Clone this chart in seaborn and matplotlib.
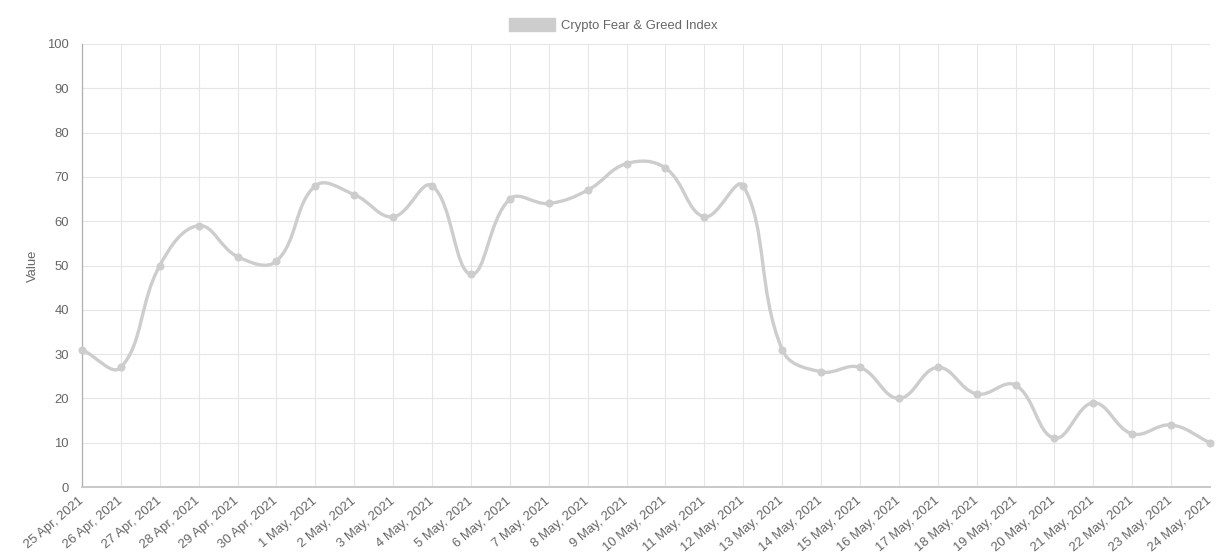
"""
Crypto Fear & Greed Index, 25 Apr - 24 May 2021, smoothed line chart.
"""

import numpy as np
import pandas as pd
import matplotlib
matplotlib.use("Agg")
import matplotlib.pyplot as plt
import seaborn as sns
from matplotlib.path import Path
from matplotlib.patches import PathPatch, Patch

# Data
dates = [
    "25 Apr, 2021", "26 Apr, 2021", "27 Apr, 2021", "28 Apr, 2021",
    "29 Apr, 2021", "30 Apr, 2021", "1 May, 2021", "2 May, 2021",
    "3 May, 2021", "4 May, 2021", "5 May, 2021", "6 May, 2021",
    "7 May, 2021", "8 May, 2021", "9 May, 2021", "10 May, 2021",
    "11 May, 2021", "12 May, 2021", "13 May, 2021", "14 May, 2021",
    "15 May, 2021", "16 May, 2021", "17 May, 2021", "18 May, 2021",
    "19 May, 2021", "20 May, 2021", "21 May, 2021", "22 May, 2021",
    "23 May, 2021", "24 May, 2021",
]
values = [
    31, 27, 50, 59, 52, 51, 68, 66, 61, 68,
    48, 65, 64, 67, 73, 72, 61, 68, 31, 26,
    27, 20, 27, 21, 23, 11, 19, 12, 14, 10,
]
series_label = "Crypto Fear & Greed Index"
y_ticks = list(range(0, 101, 10))

LINE = "#cdcdcd"
GRID = "#e6e6e6"
TEXT = "#666666"
FS = 9.4


def bezier_path(ax, xs, ys, tension=0.4):
    """Chart.js style spline (control points computed in pixel space)."""
    pts = ax.transData.transform(np.column_stack([xs, ys]))
    n = len(pts)
    verts = [pts[0]]
    codes = [Path.MOVETO]
    ctrl_prev, ctrl_next = [], []
    for i in range(n):
        p = pts[max(i - 1, 0)]
        c = pts[i]
        nx = pts[min(i + 1, n - 1)]
        d01 = np.hypot(*(c - p))
        d12 = np.hypot(*(nx - c))
        tot = d01 + d12
        s01 = d01 / tot if tot else 0
        s12 = d12 / tot if tot else 0
        ctrl_prev.append(c - tension * s01 * (nx - p))
        ctrl_next.append(c + tension * s12 * (nx - p))
    for i in range(1, n):
        verts += [ctrl_next[i - 1], ctrl_prev[i], pts[i]]
        codes += [Path.CURVE4] * 3
    verts = ax.transData.inverted().transform(np.array(verts))
    return Path(verts, codes)


def plot_index():
    sns.set_theme(style="whitegrid")
    plt.rcParams["font.family"] = ["Liberation Sans", "DejaVu Sans"]

    df = pd.DataFrame({"pos": np.arange(len(dates)), "Value": values})

    fig = plt.figure(figsize=(12.26, 5.59), dpi=100)
    ax = fig.add_axes([82 / 1226, 72 / 559, 1128 / 1226, 443 / 559])
    ax.set_facecolor("white")

    ax.set_xlim(0, len(dates) - 1)
    ax.set_ylim(0, 100)

    path = bezier_path(ax, df["pos"].to_numpy(float), df["Value"].to_numpy(float))
    ax.add_patch(PathPatch(path, facecolor="none", edgecolor=LINE, lw=2.4,
                           capstyle="round", joinstyle="round", zorder=3))
    sns.scatterplot(data=df, x="pos", y="Value", ax=ax, color=LINE, s=34,
                    edgecolor=LINE, linewidth=0, zorder=4, clip_on=False,
                    legend=False)

    ax.set_xticks(df["pos"])
    ax.set_xticklabels(dates, rotation=40, ha="right", va="center",
                       rotation_mode="anchor", fontsize=FS, color=TEXT)
    ax.set_yticks(y_ticks)
    ax.set_yticklabels([str(t) for t in y_ticks], fontsize=FS, color=TEXT)
    ax.tick_params(axis="both", length=8, width=0.8, color=GRID)
    ax.tick_params(axis="y", pad=1.5)
    ax.tick_params(axis="x", pad=1)

    ax.grid(True, color=GRID, lw=0.8)
    ax.set_xlabel("")
    ax.set_ylabel("Value", fontsize=FS, color=TEXT, labelpad=6)

    for side in ["top", "right"]:
        ax.spines[side].set_visible(False)
    ax.spines["left"].set_color("#b0b0b0")
    ax.spines["left"].set_linewidth(0.9)
    ax.spines["bottom"].set_color("#c8c8c8")
    ax.spines["bottom"].set_linewidth(1.4)

    handle = Patch(facecolor=LINE, edgecolor=LINE)
    fig.legend(handles=[handle], labels=[series_label], loc="center",
               bbox_to_anchor=(613 / 1226, 1 - 25 / 559), frameon=False,
               fontsize=FS, labelcolor=TEXT, handlelength=3.5,
               handleheight=1.1, handletextpad=0.45)

    fig.savefig("out.png", dpi=100)


if __name__ == "__main__":
    plot_index()
